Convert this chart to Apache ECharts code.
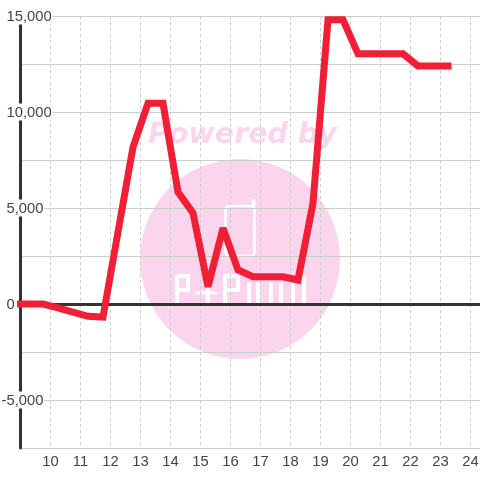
<!DOCTYPE html>
<html><head><meta charset="utf-8">
<style>html,body{margin:0;padding:0;background:#fff}#c{width:480px;height:480px}</style>
<script src="https://cdn.jsdelivr.net/npm/echarts@6/dist/echarts.min.js"></script>
</head><body><div id="c"></div>
<script>
const hours=[9,9.75,10.25,10.75,11.25,11.75,12.25,12.75,13.25,13.75,14.25,14.75,15.25,15.75,16.25,16.75,17.25,17.75,18.25,18.75,19.25,19.75,20.25,20.75,21.25,21.75,22.25,22.75,23.25];
const values=[0,0,-200,-420,-640,-680,3750,8170,10450,10450,5830,4740,900,3950,1770,1420,1420,1420,1250,5250,14800,14800,13030,13030,13030,13030,12400,12400,12400];
const lineColor='#f01f36', axisColor='#333333', gridColor='#cccccc', textColor='#444444', markColor='#fbd5ee';
const chart=echarts.init(document.getElementById('c'),null,{renderer:'canvas'});
const fmt=v=>v%5000!==0?'':(v<0?'{n|':'{p|')+String(v).replace(/\B(?=(\d{3})+$)/g,',')+'}';
const lab={fontFamily:'Liberation Sans',fontSize:14.8,color:textColor};
const stroke=(shape,type,w)=>({type,shape,z:-1,style:{stroke:'#fff',fill:null,lineWidth:w||4,lineCap:'round',lineJoin:'round'}});
chart.setOption({
 animation:false,backgroundColor:'#fff',
 grid:{left:20.5,right:0,top:16,bottom:32,containLabel:false,outerBoundsMode:'none'},
 xAxis:[{type:'value',min:9,max:24.317,interval:1,position:'bottom',z:1,
   axisLine:{show:false,onZero:false},axisTick:{show:false},
   axisLabel:{...lab,margin:6,showMinLabel:false,showMaxLabel:false,formatter:v=>String(v)},
   splitLine:{show:true,lineStyle:{color:gridColor,width:1,type:[3,3]}}},
  {type:'value',min:9,max:24.317,interval:1,z:3,
   axisLine:{show:true,onZero:true,lineStyle:{color:axisColor,width:3}},axisTick:{show:false},axisLabel:{show:false},splitLine:{show:false}}],
 yAxis:{type:'value',min:-7500,max:15000,interval:2500,z:2,
   axisLine:{show:true,onZero:false,lineStyle:{color:axisColor,width:3}},axisTick:{show:false},
   axisLabel:{inside:true,align:'left',margin:-18,showMinLabel:false,formatter:fmt,
     rich:{p:{...lab,backgroundColor:'#fff',padding:[2,1,0,4]},n:{...lab,backgroundColor:'#fff',padding:[2,1,0,-1]}}},
   splitLine:{show:true,lineStyle:{color:gridColor,width:1}}},
 graphic:{elements:[
  {type:'circle',z:-2,shape:{cx:240,cy:259,r:100},style:{fill:markColor}},
  {type:'text',z:-2,left:148,top:121,style:{text:'Powered by',fill:markColor,font:'italic bold 28.5px "DejaVu Sans"'}},
  stroke({x:225.5,y:206,width:29,height:50,r:4},'rect',2.5),
  stroke({points:[[253.5,206],[253.5,201]]},'polyline',4),
  stroke({x:177,y:276,width:11,height:14},'rect'),
  stroke({points:[[177,276],[177,303]]},'polyline'),
  stroke({points:[[197,293],[216,293]]},'polyline',3),
  stroke({points:[[208,278],[208,303]]},'polyline',4),
  stroke({x:225,y:276,width:13,height:14},'rect'),
  stroke({points:[[225,276],[225,303]]},'polyline'),
  stroke({points:[[249,284],[249,303]]},'polyline'),
  stroke({points:[[258,284],[258,303]]},'polyline'),
  stroke({points:[[271,284],[271,303]]},'polyline'),
  stroke({points:[[281,284],[281,303]]},'polyline'),
  stroke({points:[[293,284],[293,303]]},'polyline'),
  stroke({points:[[304,277],[304,303]]},'polyline')
 ]},
 series:[{type:'line',xAxisIndex:0,yAxisIndex:0,data:hours.map((h,i)=>[h,values[i]]),z:5,clip:false,
   symbol:'none',showSymbol:false,smooth:false,
   lineStyle:{color:lineColor,width:7,cap:'square',join:'miter',miterLimit:3}}]
});
</script></body></html>
